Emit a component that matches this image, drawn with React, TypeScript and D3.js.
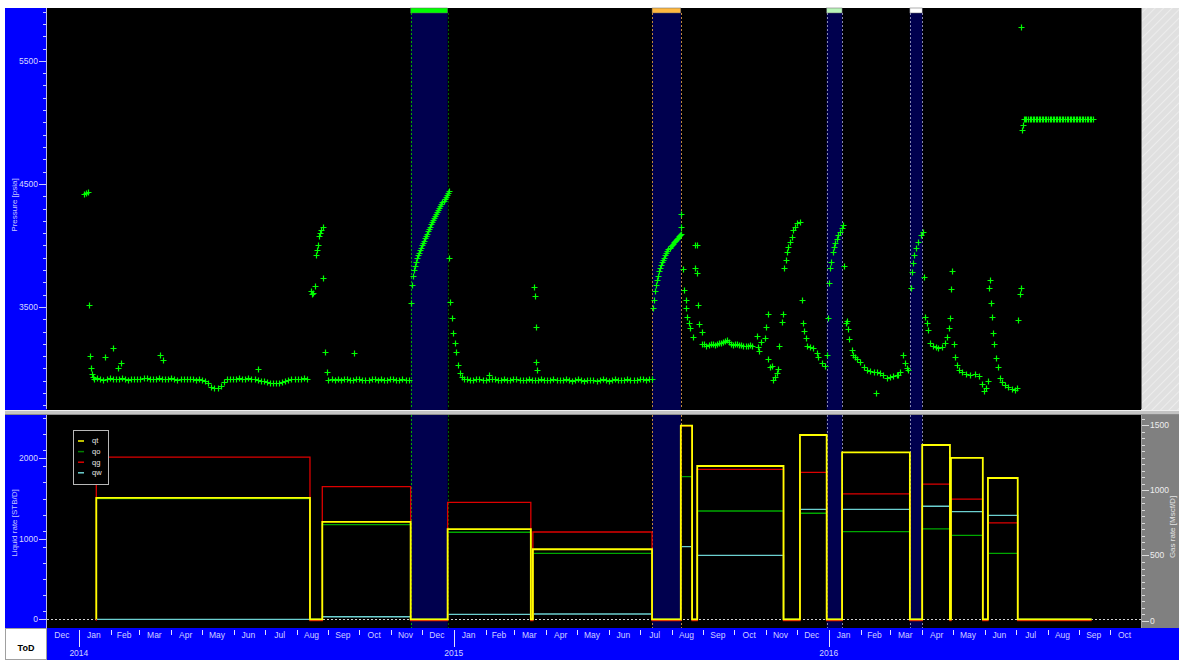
import React from "react";
import * as d3 from "d3";

// ---------------- DATA ----------------
const DAY0 = Date.UTC(2014, 0, 1);
const dd = (d: number) => new Date(DAY0 + d * 86400000);
const iso = (s: string) => new Date(s + "T00:00:00Z");

// Rate history (step periods)
const periodStarts = ["2014-01-18","2014-08-14","2014-08-26","2014-11-20","2014-12-26","2015-03-17","2015-03-19","2015-07-13","2015-08-10","2015-08-21","2015-08-26","2015-11-18","2015-12-04","2015-12-30","2016-01-14","2016-03-20","2016-04-01","2016-04-28","2016-04-29","2016-05-30","2016-06-04","2016-07-03"];
const periodEnd = "2016-09-13";
const qtRate = [1507,0,1209,0,1121,0,870,0,2405,0,1904,0,2289,0,2074,0,2165,0,2004,0,1755,0];
const qoRate = [1500,0,1175,0,1081,0,820,0,1771,0,1345,0,1317,0,1088,0,1122,0,1043,0,820,0];
const qwRate = [0,0,32,0,62,0,66,0,902,0,795,0,1366,0,1366,0,1404,0,1337,0,1292,0];
const qgRate = [1255,0,1028,0,908,0,680,0,1495,0,1161,0,1138,0,972,0,1047,0,933,0,750,0];

// Shut-in (build-up) periods
const shutInStart = ["2014-11-20","2015-07-13","2015-12-30","2016-03-20"];
const shutInEnd = ["2014-12-26","2015-08-10","2016-01-14","2016-04-01"];

// Pressure gauge readings: [day since 2014-01-01, psia]
const pressJan2014: [number, number][] = [[5.1,4419],[7.0,4427],[9.0,4435],[9.9,3516],[10.4,3102],[11.9,3004],[12.9,2955],[13.8,2931]];
const base2014aStart = 15, base2014aStep = 3;
const base2014a = [2912,2918,2915,2908,2913,2920,2916,2910,2914,2919,2915,2909,2913,2917,2912,
  2915,2918,2922,2915,2911,2916,2920,2914,2910,2915,2919,2913,2908,2912,2917,
  2914,2910,2912,2908,2910,2905,2900,2880,2850,2838,2840,2860,2890,2910,2915,
  2910,2914,2919,2915,2912,2918,2915,2910,2906,2900,2895,2888,2882,2878,2880,
  2885,2890,2898,2905,2912,2915,2910,2914,2918,2912];
const scatter2014a: [number, number][] = [[25.5,3093],[33.3,3167],[38.2,3004],[41,3040],[79,3110],[82,3069],[174.5,2996]];
const test2014Aug: [number, number][] = [[226,3630],[227,3605],[228,3614],[230,3671],[231,3923],[232,3960],[233,4004],[234,4077],[235,4100],[236,4126],[237.5,4150],[238,3736],[240,3134],[242,2971]];
const base2014bStart = 243, base2014bStep = 3;
const base2014b = [2905,2910,2908,2912,2906,2910,2914,2909,2905,2910,2912,2908,2904,2909,2913,2910,2906,2911,2909,2905,2910,2913,2908,2906,2911,2909,2905];
const scatter2014b: [number, number][] = [[267.4,3126]];
const buildup1Start = 323;
const buildup1 = [3533,3680,3750,3800,3835,3868,3895,3920,3942,3963,3982,4001,4020,4039,4058,4077,4096,4115,4134,4153,4172,4191,4208,4225,4240,4257,4273,4289,4305,4321,4337,4351,4365,4380,4395,4410,4425,4440];
const drawdown1: [number, number][] = [[360.3,3898],[361.3,3541],[363.2,3411],[364.2,3289],[366.2,3207],[367.1,3134],[369.1,3028],[371,2963],[373,2931]];
const base2015Start = 375, base2015Step = 3;
const base2015 = [2910,2914,2908,2905,2912,2916,2909,2906,2911,2915,
  2910,2904,2908,2913,2909,2905,2910,2914,2908,2903,
  2907,2912,2908,2904,2909,2913,2907,2903,2908,2912,
  2906,2902,2907,2911,2905,2901,2906,2910,2905,2900,
  2905,2909,2904,2900,2906,2910,2905,2901,2907,2912,
  2906,2902,2908,2913,2907,2903,2909,2914,2910,2906,
  2911,2915];
const scatter2015: [number, number][] = [[399.3,2947],[443.1,3663],[444.1,3589],[444.6,3337],[445.1,3053],[446,2988]];
const buildup2Start = 559;
const buildup2 = [3492,3560,3633,3680,3720,3755,3790,3815,3840,3862,3882,3900,3918,3935,3952,3968,3980,3992,4003,4014,4024,4034,4044,4054,4064,4074,4085,4095];
const buildup2Top: [number, number][] = [[585.8,4150],[586.4,4256]];
const test2015Aug: [number, number][] = [[588.5,3807],[589.4,3638],[590.6,3557],[591.3,3494],[592.5,3416],[593.5,3367],[595.2,3327],[597.8,3258],[600,4002],[602.1,4004],[600,3815],[601.6,3774],[603.2,3516],[604.2,3362],[606.5,3299]];
const plateau2015Start = 607, plateau2015Step = 2;
const plateau2015 = [3199,3195,3185,3190,3200,3196,3190,3198,3205,3210,3218,3225,3232,3215,3195,3190,3200,3196,3188,3192,3185,3180,3184,3188,3185];
const test2015Nov: [number, number][] = [[659.9,3264],[661.5,3177],[662.5,3145],[664,3218],[668,3246],[669,3340],[670.6,3441],[671.2,3075],[672.8,3015],[674.5,3023],[676.1,2906],[677.8,2933],[679.4,2961],[681,2993],[682,3183],[684.3,3380],[685.3,3441],[686.8,3815],[688.2,3882],[689.2,3950],[690.7,3990],[692.4,4031],[694,4072],[695.6,4126],[697.2,4153],[698.9,4180],[702.1,4194]];
const decline2015Dec: [number, number][] = [[703.7,3557],[704.7,3372],[706,3305],[707.6,3246],[708.6,3183],[711.8,3177],[715,3164],[718.3,3124],[719.9,3096],[723.2,3047],[726.4,3020],[728.7,3110]];
const buildup3: [number, number][] = [[729.1,3408],[730.4,3693],[731.3,3815],[732.6,3868],[734,3950],[735,3988],[736.3,4018],[737.9,4053],[739.5,4085],[741.1,4112],[742.8,4140],[744.3,4167]];
const decline2016Jan: [number, number][] = [[745.3,3836],[746.9,3372],[747.9,3389],[749.2,3319],[750.2,3237],[753.1,3150],[754.1,3110],[755.8,3096],[757.5,3075],[760.7,3055],[763.9,3015],[767.2,2988],[770.4,2980],[773.6,2974],[776.9,2972],[780.1,2966],[783.3,2947],[786.6,2920],[789.8,2931],[793,2939],[796.3,2943],[797.9,2947],[799.5,2972],[802.7,3110],[804.3,3045],[806,3002],[807.5,2988],[776.1,2803]];
const buildup4: [number, number][] = [[809.9,3652],[810.8,3787],[811.8,3855],[813.4,3923],[815.3,3980],[817.3,4031],[819.6,4085],[821.6,4112]];
const decline2016Apr: [number, number][] = [[823,3741],[824,3416],[825.5,3367],[827.1,3313],[828.8,3210],[832,3183],[834.6,3171],[836.8,3164],[840.2,3177],[843.4,3205],[845,3259],[846.7,3327],[848.3,3411],[849,3644],[849.9,3795],[851.5,3199],[853.2,3096],[854.8,3028],[856.4,2988]];
const tail2016: [number, number][] = [[860,2971],[864,2955],[868,2947],[872,2955],[876,2939],[879,2874],[881,2817],[883,2841],[885,2898],[886,3654],[887,3720],[888,3533],[889,3419],[890,3289],[891,3199],[893,3085],[895,3012],[897,2923],[899,2890],[902,2866],[905,2850],[908,2833],[911,2825],[913,2841],[914,3394],[916,3606],[917,3654],[917.5,5776],[918.4,4939],[919.3,4980],[920.3,5028]];
const flat2016Start = 921, flat2016Step = 1.5;
const flat2016 = [5030,5030,5030,5030,5030,5030,5030,5030,5030,5030,5030,5030,5030,5030,5030,5030,5030,5030,5030,5030,5030,5030,5030,5030,5030,5030,5030,5030,5030,5030,5030,5030,5030,5030,5030,5030,5030,5030,5030,5030,5030,5030,5030,5030,5030];

const pressTicksMajor = [3500, 4500, 5500];
const liquidTicksMajor = [0, 1000, 2000];
const gasTicksMajor = [0, 500, 1000, 1500];

// ---------------- STYLE ----------------
const FONT = "'Liberation Sans', Arial, sans-serif";
const BLUE = "#0000ff";
const NAVY = "#00004e";
const bandTopColors = ["#00ff00", "#ffb840", "#b8f4b8", "#ffffff"];
const bandEdgeColors = [["#00b000", "#006000"], ["#c08840", "#c08840"], ["#8888b0", "#8888b0"], ["#8888b0", "#8888b0"]];
const seriesStyle = {
  qt: { color: "#ffff00", width: 1.8 },
  qo: { color: "#00a800", width: 1.3 },
  qg: { color: "#dd0000", width: 1.3 },
  qw: { color: "#6cd0d0", width: 1.3 },
};

export default function App() {
  const plotL = 47, plotR = 1141;
  const topT = 8, topB = 409;
  const botT = 415, botB = 628;

  const x = d3.scaleUtc().domain([new Date(Date.UTC(2013, 11, 1)), new Date(Date.UTC(2016, 9, 31))]).range([plotL, plotR]);
  const yP = d3.scaleLinear().domain([2670, 5930]).range([topB, topT]);
  const yL = d3.scaleLinear().domain([-108, 2550]).range([botB, 414]);
  const yG = d3.scaleLinear().domain([-56, 1585]).range([botB, 414]);

  // pressure points
  const pts: [number, number][] = [];
  const addPairs = (a: [number, number][]) => a.forEach((p) => pts.push(p));
  const addRegular = (start: number, step: number, vals: number[]) => vals.forEach((v, i) => pts.push([start + i * step, v]));
  addPairs(pressJan2014);
  addRegular(base2014aStart, base2014aStep, base2014a);
  addPairs(scatter2014a);
  addPairs(test2014Aug);
  addRegular(base2014bStart, base2014bStep, base2014b);
  addPairs(scatter2014b);
  addRegular(buildup1Start, 1, buildup1);
  addPairs(drawdown1);
  addRegular(base2015Start, base2015Step, base2015);
  addPairs(scatter2015);
  addRegular(buildup2Start, 1, buildup2);
  addPairs(buildup2Top);
  addPairs(test2015Aug);
  addRegular(plateau2015Start, plateau2015Step, plateau2015);
  addPairs(test2015Nov);
  addPairs(decline2015Dec);
  addPairs(buildup3);
  addPairs(decline2016Jan);
  addPairs(buildup4);
  addPairs(decline2016Apr);
  addPairs(tail2016);
  addRegular(flat2016Start, flat2016Step, flat2016);

  const plusPath = pts
    .map(([d, p]) => {
      const px = Math.round(x(dd(d))) + 0.5;
      const py = Math.round(yP(p)) + 0.5;
      return `M${px - 3},${py}h6M${px},${py - 3}v6`;
    })
    .join("");

  // step lines
  const stepPts = (vals: number[]) => {
    const a: [Date, number][] = [[iso(periodStarts[0]), 0]];
    periodStarts.forEach((s, i) => a.push([iso(s), vals[i]]));
    a.push([iso(periodEnd), vals[vals.length - 1]]);
    return a;
  };
  const lineL = d3.line<[Date, number]>().x((d) => x(d[0])).y((d) => yL(d[1])).curve(d3.curveStepAfter);
  const lineG = d3.line<[Date, number]>().x((d) => x(d[0])).y((d) => yG(d[1])).curve(d3.curveStepAfter);

  // x axis months
  const months = d3.utcMonths(new Date(Date.UTC(2013, 11, 1)), new Date(Date.UTC(2016, 10, 1)));
  const monthFmt = d3.utcFormat("%b");
  const years = d3.utcYears(new Date(Date.UTC(2014, 0, 1)), new Date(Date.UTC(2017, 0, 1)));

  const pressMinor = d3.range(2700, 5950, 100).filter((v) => !pressTicksMajor.includes(v));
  const liqMinor = d3.range(-100, 2550, 200).filter((v) => v > -100 && !liquidTicksMajor.includes(v));
  const gasMinor = d3.range(0, 1590, 50).filter((v) => !gasTicksMajor.includes(v));

  const bands = shutInStart.map((s, i) => ({ x0: x(iso(s)), x1: x(iso(shutInEnd[i])), i }));

  return (
    <svg width={1179} height={660} style={{ display: "block", position: "absolute", left: 0, top: 0 }} fontFamily={FONT}>
      <defs>
        <pattern id="hatch" width="6" height="6" patternUnits="userSpaceOnUse" patternTransform="rotate(45)">
          <rect width="6" height="6" fill="#e0e0e0" />
          <line x1="0" y1="0" x2="0" y2="6" stroke="#ececec" strokeWidth="2" />
        </pattern>
        <clipPath id="clipBot"><rect x={plotL} y={botT} width={plotR - plotL} height={botB - botT} /></clipPath>
        <clipPath id="clipTop"><rect x={plotL} y={topT} width={plotR - plotL} height={topB - topT} /></clipPath>
      </defs>
      <rect width={1179} height={660} fill="#ffffff" />

      {/* top panel */}
      <rect x={5} y={topT} width={plotL - 5} height={topB - topT + 1} fill={BLUE} />
      <rect x={plotL} y={topT} width={plotR - plotL} height={topB - topT + 1} fill="#000" />
      <rect x={plotR} y={topT} width={1179 - plotR} height={topB - topT + 1} fill="url(#hatch)" />
      <line x1={plotR + 0.5} x2={plotR + 0.5} y1={topT} y2={topB} stroke="#707070" />

      {/* bottom panel */}
      <rect x={5} y={botT} width={plotL - 5} height={botB - botT} fill={BLUE} />
      <rect x={plotL} y={botT} width={plotR - plotL} height={botB - botT} fill="#000" />
      <rect x={plotR} y={botT} width={1179 - plotR} height={botB - botT} fill="#808080" />

      {/* separator */}
      <rect x={5} y={410} width={1174} height={5} fill="#c4c4c4" />
      <line x1={5} x2={1179} y1={410.5} y2={410.5} stroke="#efefef" />
      <line x1={5} x2={1179} y1={414.5} y2={414.5} stroke="#8c8c8c" />

      {/* shut-in bands */}
      {bands.map((b) => (
        <g key={b.i}>
          <rect x={b.x0} y={topT} width={b.x1 - b.x0} height={topB - topT + 1} fill={NAVY} />
          <rect x={b.x0} y={botT} width={b.x1 - b.x0} height={botB - botT} fill={NAVY} />
          <rect x={b.x0} y={topT} width={b.x1 - b.x0} height={5} fill={bandTopColors[b.i]} stroke="#606060" strokeWidth={0.5} />
          {[b.x0, b.x1].map((xx, k) => (
            <g key={k}>
              <line x1={Math.round(xx) + 0.5} x2={Math.round(xx) + 0.5} y1={topT + 5} y2={topB} stroke={bandEdgeColors[b.i][k]} strokeDasharray="2,2" />
              <line x1={Math.round(xx) + 0.5} x2={Math.round(xx) + 0.5} y1={botT} y2={botB} stroke={bandEdgeColors[b.i][k]} strokeDasharray="2,2" />
            </g>
          ))}
        </g>
      ))}

      {/* pressure markers */}
      <g clipPath="url(#clipTop)">
        <path d={plusPath} stroke="#00ff00" strokeWidth={1.2} fill="none" />
      </g>

      {/* rates */}
      <line x1={plotL} x2={plotR} y1={Math.round(yL(0)) + 0.5} y2={Math.round(yL(0)) + 0.5} stroke="#d0d0d0" strokeDasharray="2,2" />
      <g clipPath="url(#clipBot)" fill="none">
        <path d={lineL(stepPts(qwRate)) || ""} stroke={seriesStyle.qw.color} strokeWidth={seriesStyle.qw.width} />
        <path d={lineL(stepPts(qoRate)) || ""} stroke={seriesStyle.qo.color} strokeWidth={seriesStyle.qo.width} />
        <path d={lineG(stepPts(qgRate)) || ""} stroke={seriesStyle.qg.color} strokeWidth={seriesStyle.qg.width} />
        <path d={lineL(stepPts(qtRate)) || ""} stroke={seriesStyle.qt.color} strokeWidth={seriesStyle.qt.width} />
      </g>

      {/* legend */}
      <g>
        <rect x={73.5} y={430.5} width={35} height={54} fill="#000" stroke="#b8b8b8" />
        {(["qt", "qo", "qg", "qw"] as const).map((k, i) => (
          <g key={k}>
            <line x1={78} x2={84} y1={441 + i * 10.6} y2={441 + i * 10.6} stroke={k === "qo" ? "#008000" : seriesStyle[k].color} strokeWidth={1.5} />
            <text x={92} y={441 + i * 10.6} dy="0.33em" fontSize={7.5} fill="#e8e8e8">{k}</text>
          </g>
        ))}
      </g>

      {/* left axis: pressure */}
      <line x1={46.5} x2={46.5} y1={topT} y2={topB} stroke="#b8b8e8" />
      {pressTicksMajor.map((v) => (
        <g key={v}>
          <line x1={39} x2={46} y1={Math.round(yP(v)) + 0.5} y2={Math.round(yP(v)) + 0.5} stroke="#c8c8ff" />
          <text x={38} y={yP(v)} dy="0.35em" textAnchor="end" fontSize={8.5} fill="#d8d8ff">{v}</text>
        </g>
      ))}
      {pressMinor.map((v) => (
        <line key={v} x1={43} x2={46} y1={Math.round(yP(v)) + 0.5} y2={Math.round(yP(v)) + 0.5} stroke="#c8c8ff" />
      ))}
      <text transform={`translate(17,205) rotate(-90)`} textAnchor="middle" fontSize={8} fill="#c8c8ff">Pressure [psia]</text>

      {/* left axis: liquid */}
      <line x1={46.5} x2={46.5} y1={botT} y2={botB} stroke="#b8b8e8" />
      {liquidTicksMajor.map((v) => (
        <g key={v}>
          <line x1={39} x2={46} y1={Math.round(yL(v)) + 0.5} y2={Math.round(yL(v)) + 0.5} stroke="#c8c8ff" />
          <text x={38} y={yL(v)} dy="0.35em" textAnchor="end" fontSize={8.5} fill="#d8d8ff">{v}</text>
        </g>
      ))}
      {liqMinor.map((v) => (
        <line key={v} x1={43} x2={46} y1={Math.round(yL(v)) + 0.5} y2={Math.round(yL(v)) + 0.5} stroke="#c8c8ff" />
      ))}
      <text transform={`translate(17,523) rotate(-90)`} textAnchor="middle" fontSize={8} fill="#c8c8ff">Liquid rate [STB/D]</text>

      {/* right axis: gas */}
      <line x1={plotR + 0.5} x2={plotR + 0.5} y1={botT} y2={botB} stroke="#a0a0a0" />
      {gasTicksMajor.map((v) => (
        <g key={v}>
          <line x1={plotR + 1} x2={plotR + 8} y1={Math.round(yG(v)) + 0.5} y2={Math.round(yG(v)) + 0.5} stroke="#dcdcdc" />
          <text x={plotR + 9} y={yG(v)} dy="0.35em" fontSize={8.5} fill="#eeeeee">{v}</text>
        </g>
      ))}
      {gasMinor.map((v) => (
        <line key={v} x1={plotR + 1} x2={plotR + 4} y1={Math.round(yG(v)) + 0.5} y2={Math.round(yG(v)) + 0.5} stroke="#dcdcdc" />
      ))}
      <text transform={`translate(1175,527) rotate(-90)`} textAnchor="middle" fontSize={8} fill="#e4e4e4">Gas rate [Mscf/D]</text>

      {/* bottom time axis */}
      <rect x={plotL} y={botB} width={1179 - plotL} height={660 - botB} fill={BLUE} />
      <rect x={5.5} y={botB + 0.5} width={41} height={31} fill="#ffffff" stroke="#a0a0a0" />
      <text x={26} y={648} dy="0.35em" textAnchor="middle" fontSize={9} fontWeight="bold" fill="#000">ToD</text>
      {months.map((m, i) => {
        const next = d3.utcMonth.offset(m, 1);
        const x0 = Math.max(x(m), plotL);
        const x1 = Math.min(x(next), plotR);
        const isYear = m.getUTCMonth() === 0;
        const xt = Math.round(x(m)) + 0.5;
        return (
          <g key={i}>
            {i > 0 && <line x1={xt} x2={xt} y1={botB + 2} y2={isYear ? botB + 19 : botB + 7} stroke="#e0e0ff" />}
            <text x={(x0 + x1) / 2 - 1} y={638} textAnchor="middle" fontSize={8.5} fill="#d0d0ff">{monthFmt(m)}</text>
          </g>
        );
      })}
      {years.filter((yv) => x(yv) < plotR).map((yv) => (
        <text key={yv.getTime()} x={x(yv)} y={656} textAnchor="middle" fontSize={8.5} fill="#d0d0ff">{yv.getUTCFullYear()}</text>
      ))}
    </svg>
  );
}
